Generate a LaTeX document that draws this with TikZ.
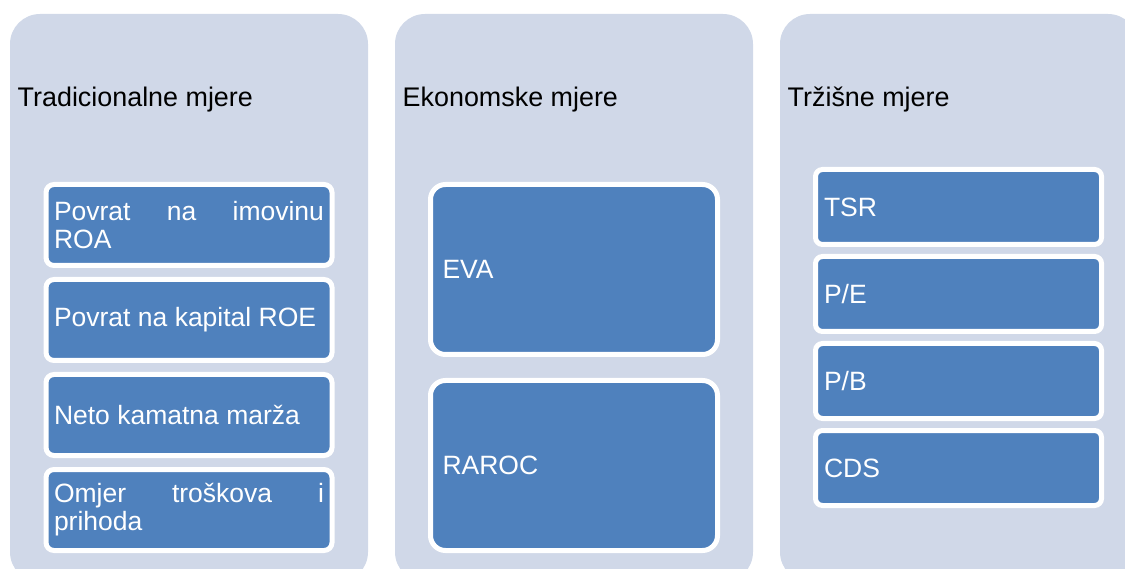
\documentclass[tikz,border=0pt]{standalone}
\usepackage{fontspec}
\setmainfont{Liberation Sans}
\definecolor{panelbg}{HTML}{D0D8E8}
\definecolor{itemblue}{HTML}{4F81BD}
\hyphenpenalty=10000

\begin{document}
\begin{tikzpicture}[x=1pt,y=-1pt,font=\fontsize{26.5}{28}\selectfont,
  panel/.style={fill=panelbg,rounded corners=30pt,minimum width=358pt,minimum height=568pt,inner sep=0pt},
  heading/.style={anchor=base west,inner sep=0pt,font=\fontsize{26.9}{28}\selectfont},
  item/.style={fill=itemblue,draw=white,line width=5pt,text=white,align=justify,inner ysep=0pt,rounded corners=#1},
  item/.default=8pt]
 \useasboundingbox (0,0) rectangle (1125,569);
 \clip (0,0) rectangle (1125,569);
 % columns
 \node[panel] (trad) at (189,298){};
 \node[panel] (ekon) at (574,298){};
 \node[panel] (trz) at (959,298){};
 \node[heading] (tradh) at (17.5,106.5){Tradicionalne mjere};
 \node[heading] (ekonh) at (402.5,106.5){Ekonomske mjere};
 \node[heading] (trzh) at (787.5,106.5){Tržišne mjere};
 % traditional
 \node[item,text width=270pt,inner xsep=8pt,minimum height=81pt] (roa) at (189,225){Povrat na imovinu\linebreak ROA};
 \node[item,text width=270pt,inner xsep=8pt,minimum height=81pt] (roe) at (189,320){Povrat na kapital ROE};
 \node[item,text width=270pt,inner xsep=8pt,minimum height=81pt] (nim) at (189,415){Neto kamatna marža};
 \node[item,text width=270pt,inner xsep=8pt,minimum height=81pt] (cir) at (189,510){Omjer troškova i\linebreak prihoda};
 % economic
 \node[item=15pt,text width=263pt,inner xsep=12pt,minimum height=170pt] (eva) at (574,269.5){EVA};
 \node[item=15pt,text width=263pt,inner xsep=12pt,minimum height=170pt] (raroc) at (574,465.5){RAROC};
 % market
 \node[item=7pt,text width=269pt,inner xsep=8.5pt,minimum height=75pt] (tsr) at (958.5,207){TSR};
 \node[item=7pt,text width=269pt,inner xsep=8.5pt,minimum height=75pt] (pe) at (958.5,294){P/E};
 \node[item=7pt,text width=269pt,inner xsep=8.5pt,minimum height=75pt] (pb) at (958.5,381){P/B};
 \node[item=7pt,text width=269pt,inner xsep=8.5pt,minimum height=75pt] (cds) at (958.5,468){CDS};
\end{tikzpicture}
\end{document}
